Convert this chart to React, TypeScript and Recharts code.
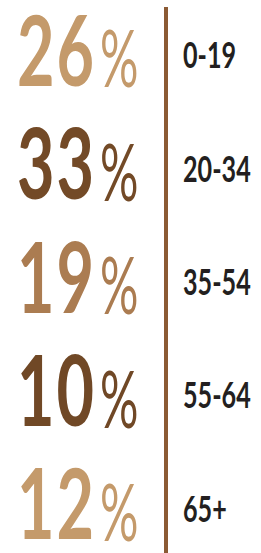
import { BarChart, Bar, XAxis, YAxis, LabelList } from 'recharts'

const ageGroups = ['0-19', '20-34', '35-54', '55-64', '65+']
const shares = [26, 33, 19, 10, 12]
const palette = ['#C49A6B', '#734A27', '#AB7C51', '#704826', '#C49A6B']

const data = ageGroups.map((age, i) => ({ age, share: shares[i] }))

function ShareLabel(props: any) {
  const { y, height, value, index } = props
  const cy = y + height / 2
  const color = palette[index] ?? '#C49A6B'
  return (
    <g>
      <g transform={`translate(96 ${cy + 30}) scale(0.66 1)`}>
        <text textAnchor="end" fill={color} fontFamily="Lato" fontWeight={700} fontSize={98} letterSpacing={3}>
          {value}
        </text>
      </g>
      <g transform={`translate(100 ${cy + 31.5}) scale(0.6 1)`}>
        <text fill={color} fontFamily="Lato" fontWeight={400} fontSize={80}>
          %
        </text>
      </g>
    </g>
  )
}

function AgeTick(props: any) {
  const { y, payload } = props
  return (
    <g transform={`translate(183 ${y + 12.5}) scale(0.68 1)`}>
      <text fill="#231F20" fontFamily="Lato" fontWeight={700} fontSize={37}>
        {payload.value}
      </text>
    </g>
  )
}

export default function App() {
  return (
    <div style={{ position: 'absolute', left: 0, top: 0, background: '#fff' }}>
      <BarChart
        width={261}
        height={553}
        data={data}
        layout="vertical"
        margin={{ top: 7, right: 0, bottom: 0, left: 0 }}
      >
        <XAxis type="number" hide domain={[0, 40]} />
        <YAxis
          type="category"
          dataKey="age"
          orientation="right"
          width={95}
          padding={{ top: -8, bottom: -13 }}
          axisLine={{ stroke: '#8B5A34', strokeWidth: 4 }}
          tickLine={false}
          tick={<AgeTick />}
        />
        <Bar dataKey="share" fill="none" isAnimationActive={false}>
          <LabelList dataKey="share" content={<ShareLabel />} />
        </Bar>
      </BarChart>
    </div>
  )
}
